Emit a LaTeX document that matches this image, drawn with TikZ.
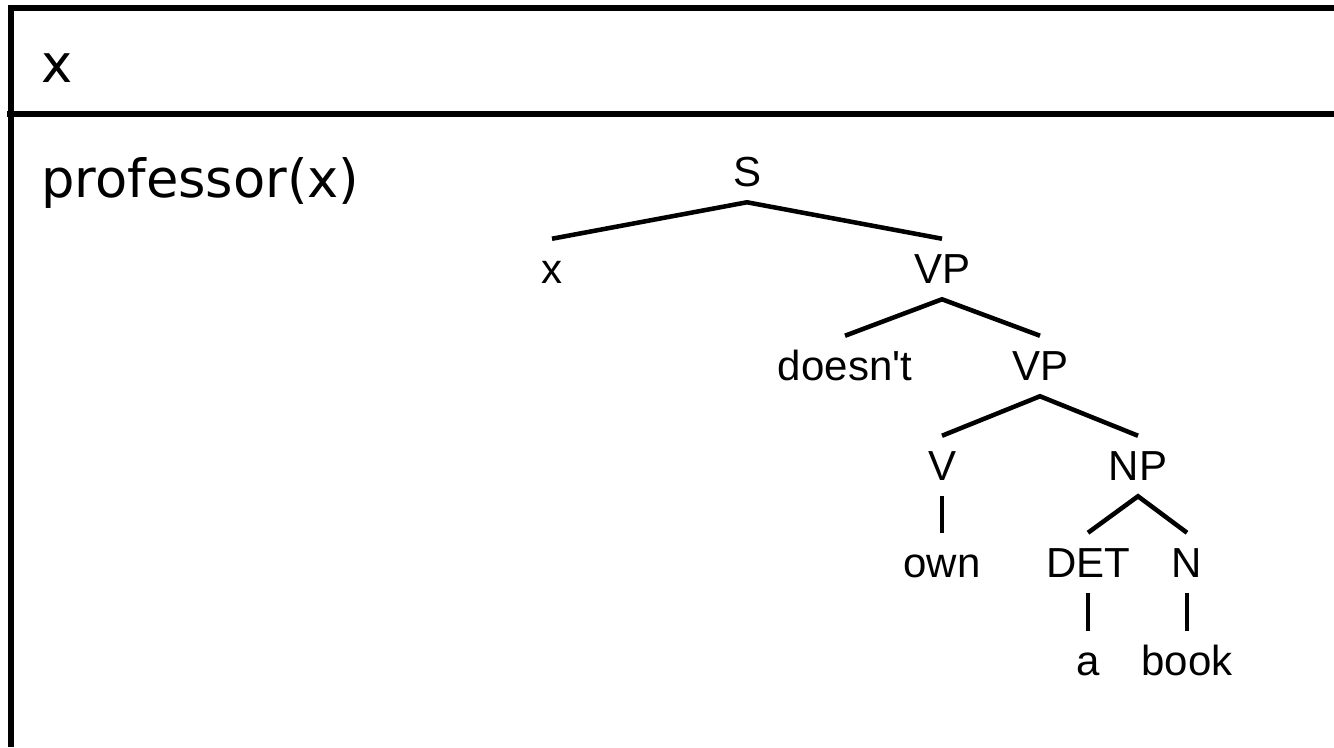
\documentclass[tikz,border=0pt]{standalone}
\usepackage{fontspec}
\newfontfamily\drsfont{DejaVu Sans}
\newfontfamily\treefont{Liberation Sans}[Ligatures=TeXOff]
\usepackage{tikz}
\usetikzlibrary{calc}

\tikzset{
  drsline/.style={line width=4.5pt},
  drstext/.style={anchor=base west,inner sep=0pt,font=\drsfont\fontsize{39.5pt}{44pt}\selectfont},
  cat/.style={anchor=base,inner sep=5.25pt,text height=27.75pt,text depth=6.75pt,
    font=\treefont\fontsize{31.5pt}{36pt}\selectfont},
  branch/.style={line width=3.4pt}
}

\begin{document}
\begin{tikzpicture}[x=0.75pt,y=-0.75pt]
		\useasboundingbox (0,0) rectangle (1334,747);
		% box
		\draw[drsline] (11,747) -- (11,8) -- (1334,8);
		\draw[drsline] (7,113.5) -- (1334,113.5);
		\node[drstext] (univ) at (41,82) {x};
		\node[drstext] (cond) at (41,197) {professor(x)};
		% tree
		\node[cat] (s) at (747,186) {S};
		\node[cat] (subj) at (552,283) {x};
		\node[cat] (vpa) at (942,283) {VP};
		\node[cat] (neg) at (845,380) {doesn't};
		\node[cat] (vpb) at (1040,380) {VP};
		\node[cat] (v) at (942,480) {V};
		\node[cat] (np) at (1138,480) {NP};
		\node[cat] (own) at (942,577) {own};
		\node[cat] (det) at (1088,577) {DET};
		\node[cat] (n) at (1187,577) {N};
		\node[cat] (a) at (1088,675) {a};
		\node[cat] (book) at (1187,675) {book};
		\draw[branch] (subj.north) -- (s.south) -- (vpa.north);
		\draw[branch] (neg.north) -- (vpa.south) -- (vpb.north);
		\draw[branch] (v.north) -- (vpb.south) -- (np.north);
		\draw[branch] (det.north) -- (np.south) -- (n.north);
		\draw[branch] (v.south) -- (own.north);
		\draw[branch] (det.south) -- (a.north);
		\draw[branch] (n.south) -- (book.north);
	\end{tikzpicture}
\end{document}
